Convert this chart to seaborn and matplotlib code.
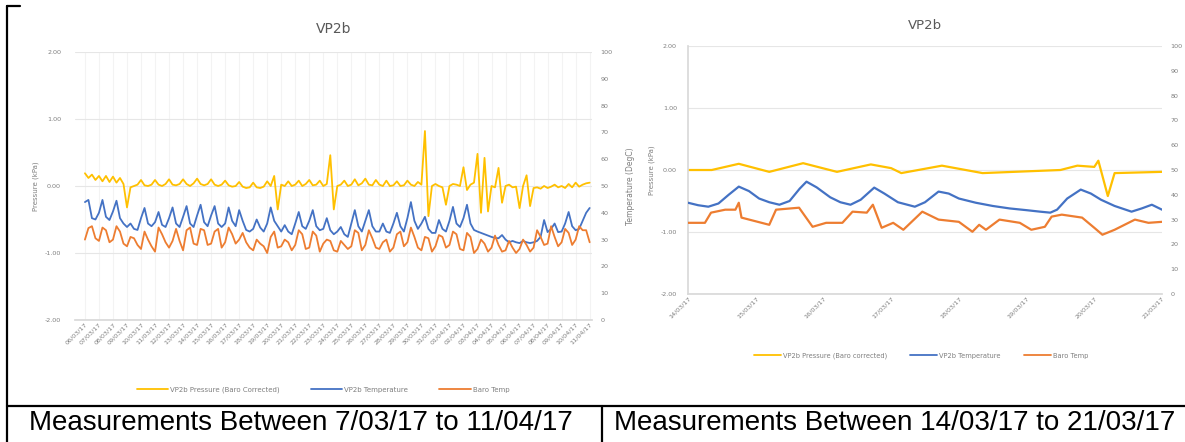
import numpy as np
import pandas as pd
import matplotlib
matplotlib.use('Agg')
import matplotlib.pyplot as plt
from matplotlib.lines import Line2D
import seaborn as sns

# Long record: one reading every 6 hours from 06/03/17 00:00 (one row per day)
press_long = [
    0.19, 0.12, 0.17, 0.09,   0.15, 0.07, 0.15, 0.06,   0.14, 0.05, 0.12, 0.03,
    -0.32, -0.02, 0.00, 0.02, 0.09, 0.01, 0.00, 0.02,   0.09, 0.02, 0.00, 0.03,
    0.10, 0.02, 0.01, 0.03,   0.10, 0.03, 0.00, 0.04,   0.11, 0.03, 0.01, 0.03,
    0.10, 0.02, 0.00, 0.02,   0.08, 0.01, -0.01, 0.00,  0.06, -0.01, -0.03, -0.02,
    0.05, -0.02, -0.03, -0.01, 0.07, 0.00, 0.15, -0.35, 0.02, 0.00, 0.07, 0.00,
    0.02, 0.08, 0.00, 0.03,   0.09, 0.01, 0.02, 0.08,   0.00, 0.03, 0.46, -0.35,
    0.00, 0.02, 0.08, 0.00,   0.02, 0.10, 0.01, 0.04,   0.11, 0.02, 0.01, 0.09,
    0.02, 0.00, 0.08, 0.00,   0.01, 0.07, 0.00, 0.01,   0.08, 0.02, 0.00, 0.06,
    0.02, 0.82, -0.45, 0.00,  0.03, 0.00, -0.02, -0.28, 0.00, 0.03, 0.02, 0.00,
    0.28, -0.06, 0.02, 0.05,  0.48, -0.40, 0.42, -0.38, 0.00, -0.02, 0.27, -0.25,
    0.00, 0.02, -0.02, -0.01, -0.33, 0.00, 0.16, -0.30, -0.03, -0.02, -0.04, 0.00,
    -0.03, -0.01, 0.02, -0.02, 0.00, -0.03, 0.03, -0.02, 0.05, -0.01, 0.02, 0.04,
    0.05,
]
temp_long = [
    44.0, 44.8, 38.0, 37.5,   40.0, 44.8, 38.5, 37.3,   40.5, 44.5, 38.0, 36.0,
    34.7, 36.0, 34.0, 33.6,   38.0, 41.8, 36.0, 35.0,   36.5, 40.3, 35.5, 34.7,
    38.0, 42.0, 36.0, 34.7,   38.5, 42.5, 36.0, 34.7,   39.0, 43.0, 36.5, 35.0,
    39.0, 42.5, 36.0, 34.7,   36.0, 42.0, 37.0, 35.0,   41.0, 37.0, 33.6, 33.0,
    34.0, 37.5, 34.5, 33.0,   36.0, 42.0, 37.0, 35.0,   33.0, 35.4, 33.0, 32.0,
    36.0, 40.3, 35.0, 34.0,   37.0, 41.0, 35.0, 33.5,   34.0, 38.0, 33.5, 32.0,
    33.0, 34.7, 32.0, 31.0,   36.0, 41.0, 35.0, 33.0,   37.0, 41.0, 35.0, 33.0,
    33.0, 36.0, 33.0, 32.5,   36.0, 40.0, 35.0, 33.0,   38.0, 44.0, 37.0, 34.0,
    36.0, 38.5, 34.0, 32.5,   32.5, 37.3, 34.0, 33.0,   37.0, 42.2, 36.0, 34.7,
    38.0, 43.0, 36.0, 33.6,   33.0, 32.5, 32.0, 31.5,   31.0, 30.6, 30.5, 31.7,
    30.0, 29.0, 29.5, 29.0,   28.7, 29.5, 29.0, 28.7,   29.0, 29.5, 31.0, 37.3,
    32.8, 34.0, 36.0, 32.8,   33.0, 36.0, 40.3, 35.0,   33.5, 34.0, 37.0, 40.0,
    41.8,
]
baro_long = [
    30.0, 34.3, 35.0, 30.5,   29.5, 34.5, 33.5, 29.0,   30.0, 35.0, 33.0, 28.5,
    27.5, 31.0, 30.5, 28.0,   26.5, 33.0, 30.0, 27.5,   25.5, 34.5, 32.0, 29.0,
    27.0, 29.5, 34.0, 29.5,   26.0, 33.5, 34.5, 28.5,   28.0, 34.0, 33.5, 28.0,
    28.5, 33.0, 34.0, 27.0,   29.0, 34.5, 32.0, 28.5,   30.0, 32.5, 29.0, 27.0,
    26.0, 30.0, 28.5, 27.5,   25.0, 31.0, 33.0, 27.0,   27.5, 30.0, 29.0, 26.0,
    28.0, 33.5, 32.0, 26.5,   27.0, 33.0, 31.5, 25.5,   28.5, 30.0, 29.5, 26.0,
    25.5, 29.5, 28.0, 26.5,   27.5, 33.5, 32.5, 26.0,   28.0, 33.5, 30.5, 27.0,
    26.5, 29.0, 30.0, 25.5,   27.0, 32.0, 33.0, 27.5,   29.0, 34.5, 31.0, 27.0,
    26.0, 31.0, 30.5, 25.5,   27.5, 31.7, 31.0, 27.0,   28.0, 33.0, 32.0, 26.5,
    26.0, 32.5, 31.0, 25.0,   26.5, 30.0, 28.5, 25.5,   27.0, 31.5, 28.0, 25.5,
    26.0, 29.5, 27.0, 25.0,   26.5, 30.0, 28.0, 25.5,   27.0, 33.5, 31.0, 28.0,
    28.5, 35.0, 31.0, 27.5,   29.0, 34.0, 32.5, 28.0,   30.0, 35.0, 33.5, 33.5,
    29.0,
]
long_ticks = pd.date_range('2017-03-06', '2017-04-11', freq='D')

# Zoomed record 14/03/17 - 21/03/17, times in days after 14/03/17 00:00
press_days = [0.0, 0.35, 0.75, 1.2, 1.7, 2.2, 2.7, 3.0, 3.15, 3.75, 4.35, 5.5,
              5.75, 6.0, 6.06, 6.2, 6.3, 7.0]
press_short = [0.0, 0.0, 0.10, -0.03, 0.11, -0.03, 0.09, 0.03, -0.05, 0.07, -0.05,
               0.0, 0.07, 0.05, 0.15, -0.42, -0.05, -0.03]
temp_days = [0.0, 0.15, 0.3, 0.45, 0.6, 0.75, 0.9, 1.05, 1.2, 1.35, 1.5, 1.65, 1.75,
             1.9, 2.1, 2.25, 2.4, 2.55, 2.75, 2.9, 3.1, 3.35, 3.5, 3.7, 3.85, 4.0,
             4.25, 4.5, 4.75, 5.0, 5.2, 5.35, 5.45, 5.6, 5.8, 5.95, 6.1, 6.3, 6.55,
             6.7, 6.85, 7.0]
temp_short = [36.8, 35.8, 35.2, 36.5, 40.0, 43.3, 41.5, 38.5, 37.0, 36.0, 37.5, 42.5,
              45.3, 43.0, 39.0, 37.0, 36.0, 38.0, 42.9, 40.5, 37.0, 35.2, 37.0, 41.3,
              40.5, 38.5, 36.8, 35.5, 34.5, 33.8, 33.2, 32.8, 34.0, 38.5, 42.1, 40.5,
              38.0, 35.5, 33.2, 34.5, 36.0, 34.0]
baro_days = [0.0, 0.25, 0.34, 0.55, 0.7, 0.75, 0.79, 1.2, 1.3, 1.64, 1.84, 2.04,
             2.28, 2.43, 2.64, 2.73, 2.86, 3.03, 3.18, 3.46, 3.7, 4.0, 4.2, 4.3, 4.4,
             4.6, 4.9, 5.07, 5.27, 5.37, 5.52, 5.82, 6.0, 6.12, 6.3, 6.6, 6.8, 7.0]
baro_short = [28.7, 28.7, 32.8, 34.0, 34.0, 36.8, 30.8, 27.9, 34.0, 34.8, 27.1, 28.7,
              28.7, 33.2, 32.8, 36.0, 26.7, 28.7, 25.9, 33.2, 30.0, 29.1, 25.1, 27.9,
              25.9, 30.0, 28.7, 25.9, 27.1, 31.2, 32.0, 30.8, 26.7, 23.9, 25.9, 30.0,
              28.7, 29.1]
short_ticks = pd.date_range('2017-03-14', '2017-03-21', freq='D')

YELLOW, BLUE, ORANGE = '#FFC000', '#4472C4', '#ED7D31'
GREY = '#7f7f7f'

sns.set_theme(style='white')
plt.rcParams['font.family'] = ['DejaVu Sans']

long_t = pd.date_range('2017-03-06', periods=len(press_long), freq='6h')
long_df = pd.DataFrame({'time': long_t, 'press': press_long,
                        'temp': temp_long, 'baro': baro_long})
start2 = pd.Timestamp('2017-03-14')
p2 = pd.DataFrame({'time': start2 + pd.to_timedelta(press_days, unit='D'), 'v': press_short})
t2 = pd.DataFrame({'time': start2 + pd.to_timedelta(temp_days, unit='D'), 'v': temp_short})
b2 = pd.DataFrame({'time': start2 + pd.to_timedelta(baro_days, unit='D'), 'v': baro_short})

W, H = 1185, 442
fig = plt.figure(figsize=(W / 100, H / 100), dpi=100)


def box(l, t, r, b):
    return [l / W, 1 - b / H, (r - l) / W, (b - t) / H]


def style_axes(ax, axr, pad_l, pad_r):
    ax.set_ylim(-2, 2)
    ax.set_yticks([-2, -1, 0, 1, 2])
    ax.set_yticklabels(['%.2f' % v for v in [-2, -1, 0, 1, 2]])
    axr.set_ylim(0, 100)
    axr.set_yticks(range(0, 101, 10))
    for a in (ax, axr):
        for s in a.spines.values():
            s.set_visible(False)
    ax.grid(axis='y', color='#e6e6e6', lw=0.8)
    ax.tick_params(axis='y', length=0, labelsize=4.6, labelcolor=GREY, pad=pad_l)
    axr.tick_params(axis='y', length=0, labelsize=4.6, labelcolor=GREY, pad=pad_r)
    ax.tick_params(axis='x', length=0, labelsize=4.6, labelcolor=GREY, pad=1)
    ax.set_xlabel('')
    ax.set_ylabel('Pressure (kPa)', fontsize=5, color=GREY, labelpad=4)


# ---- left chart: whole record
ax1 = fig.add_axes(box(75, 52, 592, 320))
ax1r = ax1.twinx()
sns.lineplot(data=long_df, x='time', y='press', ax=ax1, color=YELLOW, lw=1.3, legend=False)
sns.lineplot(data=long_df, x='time', y='temp', ax=ax1r, color=BLUE, lw=1.3, legend=False)
sns.lineplot(data=long_df, x='time', y='baro', ax=ax1r, color=ORANGE, lw=1.3, legend=False)
ax1.set_xlim(long_ticks[0] - pd.Timedelta(hours=17), long_ticks[-1] + pd.Timedelta(hours=4))
ax1.set_xticks(long_ticks)
ax1.set_xticklabels(long_ticks.strftime('%d/%m/%y'), rotation=45, ha='right',
                    rotation_mode='anchor')
ax1.grid(axis='x', color='#f3f3f3', lw=0.8)
style_axes(ax1, ax1r, 10, 6)
ax1r.set_ylabel('Temperature (DegC)', fontsize=5.5, color=GREY, labelpad=10)
ax1.set_title('VP2b', fontsize=10, color='#595959', pad=14)
ax1.spines['bottom'].set_visible(True)
ax1.spines['bottom'].set_color('#d9d9d9')

# ---- right chart: one week
ax2 = fig.add_axes(box(688, 46, 1162, 294))
ax2r = ax2.twinx()
sns.lineplot(data=p2, x='time', y='v', ax=ax2, color=YELLOW, lw=1.6, legend=False)
sns.lineplot(data=t2, x='time', y='v', ax=ax2r, color=BLUE, lw=1.6, legend=False)
sns.lineplot(data=b2, x='time', y='v', ax=ax2r, color=ORANGE, lw=1.6, legend=False)
ax2.set_xlim(short_ticks[0], short_ticks[-1])
ax2.set_xticks(short_ticks)
ax2.set_xticklabels(short_ticks.strftime('%d/%m/%y'), rotation=45, ha='right',
                    rotation_mode='anchor')
style_axes(ax2, ax2r, 8, 6)
ax2r.set_ylabel('')
ax2.set_title('VP2b', fontsize=9.5, color='#595959', pad=12)
ax2.spines['left'].set_visible(True)
ax2.spines['left'].set_color('#d9d9d9')
ax2.spines['bottom'].set_visible(True)
ax2.spines['bottom'].set_color('#d9d9d9')

# legends
names1 = ['VP2b Pressure (Baro Corrected)', 'VP2b Temperature', 'Baro Temp']
names2 = ['VP2b Pressure (Baro corrected)', 'VP2b Temperature', 'Baro Temp']
handles = [Line2D([], [], color=c, lw=1.3) for c in (YELLOW, BLUE, ORANGE)]
fig.legend(handles, names1, loc='center', bbox_to_anchor=(323 / W, 1 - 390 / H), ncol=3,
           frameon=False, fontsize=5, labelcolor=GREY, handlelength=4.5,
           columnspacing=4.5, handletextpad=0.3)
fig.legend(handles, names2, loc='center', bbox_to_anchor=(921 / W, 1 - 356 / H), ncol=3,
           frameon=False, fontsize=4.8, labelcolor=GREY, handlelength=4,
           columnspacing=3.5, handletextpad=0.3)

# table borders and captions
def rule(x0, y0, x1, y1):
    fig.add_artist(Line2D([x0 / W, x1 / W], [1 - y0 / H, 1 - y1 / H],
                          transform=fig.transFigure, color='black', lw=1.6))

rule(7, 6, 7, H)
rule(7, 6, 20, 6)
rule(7, 406, W, 406)
rule(602, 406, 602, H)

cap_font = ['Liberation Sans Narrow', 'Liberation Sans', 'DejaVu Sans']
fig.text(301 / W, 1 - 423 / H, 'Measurements Between 7/03/17 to 11/04/17',
         ha='center', va='center', fontsize=20, color='black', family=cap_font)
fig.text(895 / W, 1 - 423 / H, 'Measurements Between 14/03/17 to 21/03/17',
         ha='center', va='center', fontsize=20, color='black', family=cap_font)

fig.savefig('out.png', dpi=100)
